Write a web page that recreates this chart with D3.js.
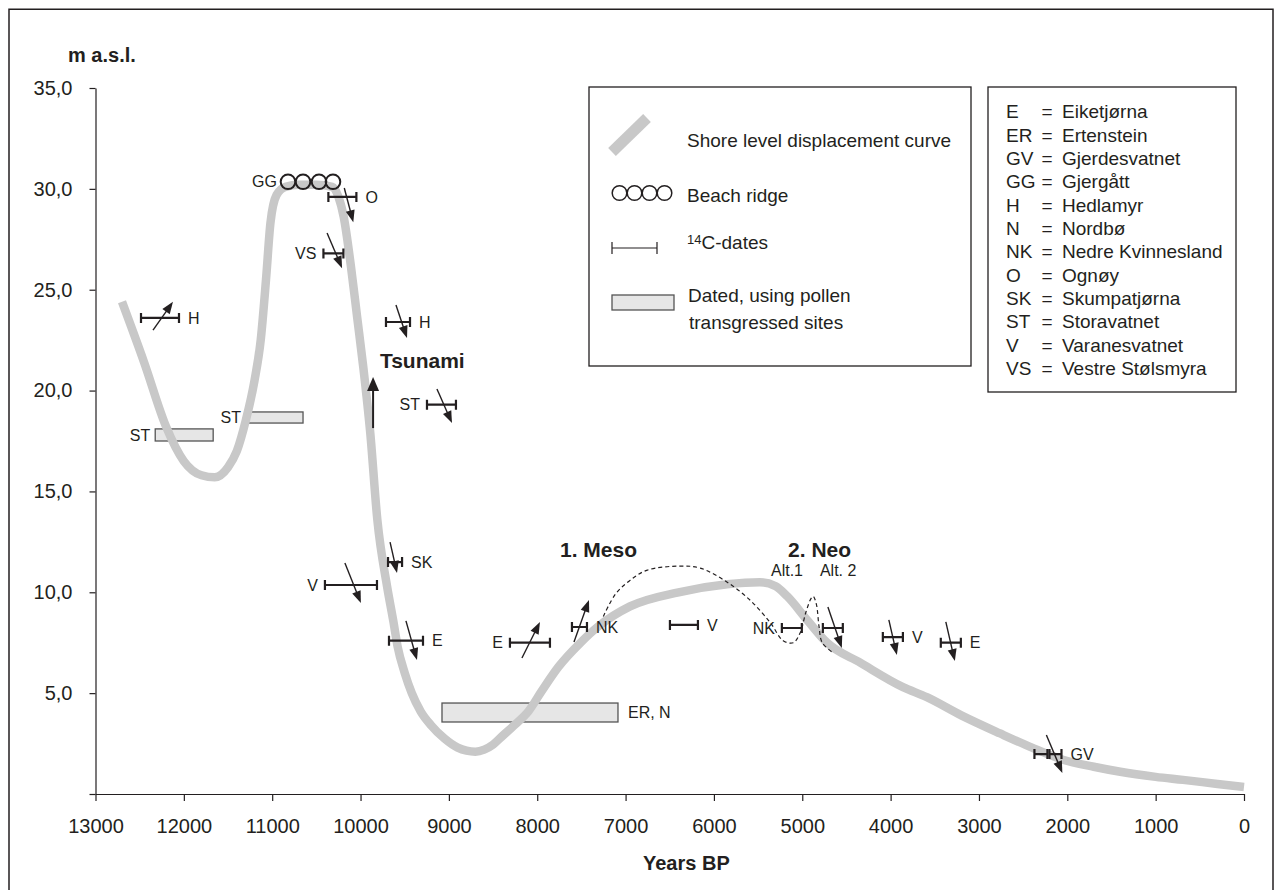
<!DOCTYPE html>
<html><head><meta charset="utf-8">
<script src="https://cdn.jsdelivr.net/npm/d3@7"></script>
<style>
body{margin:0;background:#fff}
text{font-family:"Liberation Sans",Arial,Helvetica,sans-serif;fill:#231f20}
</style>
</head><body>
<svg id="c" width="1275" height="890"></svg>
<script>
// ---------------- data ----------------
const xTicks = [13000,12000,11000,10000,9000,8000,7000,6000,5000,4000,3000,2000,1000,0];
const yTicks = [0,5,10,15,20,25,30,35];

// shore level displacement curve (years BP, m a.s.l.)
const curveYears  = [12700,12450,12200,12000,11800,11650,11500,11400,11300,11200,11130,11070,11020,10950,10850,10700,10500,10320,10250,10190,10110,10040,9970,9890,9810,9700,9630,9580,9500,9420,9320,9200,9050,8900,8800,8700,8600,8500,8400,8250,8100,7950,7760,7510,7310,6950,6400,5850,5480,5300,5170,4940,4720,4340,3860,3590,3200,2760,2400,2050,1700,1400,1000,690,300,0];
const curveLevels = [24.4,21.4,18.2,16.5,15.8,15.7,16.2,17.0,18.5,20.5,22.5,25.5,28.3,29.7,30.1,30.2,30.2,30.1,29.6,28.6,26.2,23.7,21.2,17.9,13.6,10.3,8.6,7.3,6.0,5.0,4.1,3.4,2.75,2.3,2.15,2.1,2.2,2.45,2.85,3.45,4.1,5.1,6.3,7.5,8.3,9.3,10.0,10.4,10.5,10.3,9.8,8.6,7.5,6.5,5.3,4.8,3.9,3.0,2.3,1.7,1.35,1.1,0.85,0.7,0.5,0.35];

// dashed alternative curve
const dashYears  = [7252,7116,6947,6754,6381,6155,5849,5589,5363,5216,5102,5023,4960,4900,4876,4840,4810,4774,4650];
const dashLevels = [8.8,9.9,10.6,11.1,11.3,11.2,10.5,9.6,8.5,7.6,7.5,8.0,9.0,9.7,9.8,9.4,8.3,7.5,7.0];

// beach ridge (GG)
const beachYears = [10821,10651,10470,10312];
const beachLevel = 30.35;

// 14C dates
const dateSites  = ["H","O","VS","H","ST","SK","V","E","E","NK","V","NK","","V","E","","GV"];
const dateFrom   = [12485,10364,10420,9712,9248,9689,10403,9678,8309,7607,6498,5231,4767,4088,3432,2372,2202];
const dateTo     = [12055,10047,10194,9440,8920,9530,9814,9293,7856,7437,6181,5005,4541,3861,3205,2225,2066];
const dateLevel  = [23.6,29.6,26.8,23.4,19.3,11.5,10.36,7.6,7.5,8.28,8.38,8.23,8.23,7.78,7.5,1.98,1.98];
const dateSide   = ["right","right","left","right","left","right","left","right","left","right","right","left","right","right","right","right","right"];
// arrows (tail -> head), null = no arrow
const arrowFromYear  = [12349,10184,10379,9599,9135,9666,10177,9486,8173,7584,null,null,4710,4020,3375,null,2237];
const arrowFromLevel = [23.0,30.04,27.81,24.24,20.08,12.49,11.45,8.58,6.74,7.54,null,null,9.27,8.63,8.53,null,2.93];
const arrowToYear    = [12123,10082,10209,9474,8965,9587,9996,9361,7969,7414,null,null,4552,3929,3273,null,2056];
const arrowToLevel   = [24.4,28.35,26.07,22.61,18.39,10.96,9.47,6.64,8.53,9.62,null,null,7.24,6.89,6.59,null,1.04];

// pollen-dated transgressed sites
const pollenSites  = ["ST","ST","ER, N"];
const pollenFrom   = [12324,11297,9078];
const pollenTo     = [11668,10651,7086];
const pollenTop    = [18.1,18.94,4.51];
const pollenBottom = [17.5,18.39,3.57];
const pollenSide   = ["left","left","right"];

// tsunami
const tsunamiYear = 9858, tsunamiFrom = 18.14, tsunamiTo = 20.67;

// annotations
const annTexts  = ["Tsunami","1. Meso","2. Neo","Alt.1","Alt. 2"];
const annYears  = [9781,7742,5161,5354,4800];
const annLevels = [21.47,12.1,12.1,11.1,11.1];
const annBold   = [true,true,true,false,false];

// site key
const siteCodes = ["E","ER","GV","GG","H","N","NK","O","SK","ST","V","VS"];
const siteNames = ["Eiketjørna","Ertenstein","Gjerdesvatnet","Gjergått","Hedlamyr","Nordbø","Nedre Kvinnesland","Ognøy","Skumpatjørna","Storavatnet","Varanesvatnet","Vestre Stølsmyra"];

// ---------------- drawing ----------------
const INK = "#231f20", GREY = "#c8c8c8", BOXFILL = "#e6e6e6", BOXSTROKE = "#555";
const svg = d3.select("#c");
svg.append("rect").attr("width",1275).attr("height",890).attr("fill","#fff");
// outer frame (bottom edge lies outside the picture)
svg.append("path").attr("d","M9,892V9.3H1273V892").attr("fill","none").attr("stroke",INK).attr("stroke-width",1.5);

const x = d3.scaleLinear().domain([13000,0]).range([95.5,1244]);
const y = d3.scaleLinear().domain([0,35]).range([794,88]);

// axes
const gx = svg.append("g").attr("transform",`translate(0,${y(0)})`)
  .call(d3.axisBottom(x).tickValues(xTicks).tickSize(7).tickSizeOuter(0).tickPadding(18).tickFormat(d3.format("d")));
const gy = svg.append("g").attr("transform",`translate(${x(13000)},0)`)
  .call(d3.axisLeft(y).tickValues(yTicks).tickSize(6).tickSizeOuter(0).tickPadding(17)
    .tickFormat(d => d === 0 ? "" : d.toFixed(1).replace(".", ",")));
[gx,gy].forEach(g => {
  g.attr("font-family",null).attr("font-size",null);
  g.selectAll("path,line").attr("stroke",INK).attr("stroke-width",1.2);
  g.selectAll("text").attr("fill",INK).style("font-size","20px");
});

svg.append("text").attr("x",68).attr("y",55).attr("dy","0.35em")
  .style("font-size","20px").style("font-weight","bold").text("m a.s.l.");
svg.append("text").attr("x",643).attr("y",863).attr("dy","0.35em")
  .style("font-size","20px").style("font-weight","bold").text("Years BP");

// pollen boxes
const pollen = pollenSites.map((s,i)=>({s,from:pollenFrom[i],to:pollenTo[i],top:pollenTop[i],bot:pollenBottom[i],side:pollenSide[i]}));
svg.append("g").selectAll("rect").data(pollen).join("rect")
  .attr("x",d=>x(d.from)).attr("y",d=>y(d.top))
  .attr("width",d=>x(d.to)-x(d.from)).attr("height",d=>y(d.bot)-y(d.top))
  .attr("fill",BOXFILL).attr("stroke",BOXSTROKE).attr("stroke-width",1.3);
svg.append("g").selectAll("text").data(pollen).join("text")
  .attr("x",d=>d.side==="left"? x(d.from)-5 : x(d.to)+10)
  .attr("y",d=>(y(d.top)+y(d.bot))/2).attr("dy","0.35em")
  .attr("text-anchor",d=>d.side==="left"?"end":"start")
  .style("font-size","16px").text(d=>d.s);

// main curve
const line = d3.line().x(d=>x(d[0])).y(d=>y(d[1])).curve(d3.curveMonotoneX);
svg.append("path").datum(curveYears.map((v,i)=>[v,curveLevels[i]]))
  .attr("d",line).attr("fill","none").attr("stroke",GREY).attr("stroke-width",8.5);

// dashed curve
const dline = d3.line().x(d=>x(d[0])).y(d=>y(d[1])).curve(d3.curveCatmullRom.alpha(0.5));
svg.append("path").datum(dashYears.map((v,i)=>[v,dashLevels[i]]))
  .attr("d",dline).attr("fill","none").attr("stroke",INK).attr("stroke-width",1.2)
  .attr("stroke-dasharray","4,3");

// beach ridge
svg.append("g").selectAll("circle").data(beachYears).join("circle")
  .attr("cx",d=>x(d)).attr("cy",y(beachLevel)).attr("r",7.3)
  .attr("fill","none").attr("stroke",INK).attr("stroke-width",2);
svg.append("text").attr("x",x(beachYears[0])-11).attr("y",y(beachLevel)).attr("dy","0.3em")
  .attr("text-anchor","end").style("font-size","16px").text("GG");

// arrows helper
function arrow(g,x1,y1,x2,y2,len,wid,sw){
  const dx=x2-x1, dy=y2-y1, L=Math.hypot(dx,dy), ux=dx/L, uy=dy/L;
  const bx=x2-ux*len, by=y2-uy*len, px=-uy*wid/2, py=ux*wid/2;
  g.append("line").attr("x1",x1).attr("y1",y1).attr("x2",bx+ux*1).attr("y2",by+uy*1)
    .attr("stroke",INK).attr("stroke-width",sw);
  g.append("polygon").attr("points",`${x2},${y2} ${bx+px},${by+py} ${bx-px},${by-py}`).attr("fill",INK);
}

// 14C dates
const dates = dateSites.map((s,i)=>({s,from:dateFrom[i],to:dateTo[i],m:dateLevel[i],side:dateSide[i],
  ax1:arrowFromYear[i],ay1:arrowFromLevel[i],ax2:arrowToYear[i],ay2:arrowToLevel[i]}));
const gd = svg.append("g");
dates.forEach(d=>{
  const x1=x(d.from), x2=x(d.to), yy=y(d.m);
  gd.append("path").attr("d",`M${x1},${yy-5}V${yy+5}M${x1},${yy}H${x2}M${x2},${yy-5}V${yy+5}`)
    .attr("fill","none").attr("stroke",INK).attr("stroke-width",2.2);
  if(d.s){
    gd.append("text").attr("x",d.side==="left"?x1-7:x2+9).attr("y",yy).attr("dy","0.35em")
      .attr("text-anchor",d.side==="left"?"end":"start").style("font-size","16px").text(d.s);
  }
  if(d.ax1!==null){
    arrow(gd,x(d.ax1),y(d.ay1),x(d.ax2),y(d.ay2),12,9,1.4);
  }
});

// tsunami arrow
arrow(svg.append("g"),x(tsunamiYear),y(tsunamiFrom),x(tsunamiYear),y(tsunamiTo),14,12,2);

// annotations
annTexts.forEach((t,i)=>{
  svg.append("text").attr("x",x(annYears[i])).attr("y",y(annLevels[i])).attr("dy","0.35em")
    .style("font-size",annBold[i]?"21px":"16px").style("font-weight",annBold[i]?"bold":"normal").text(t);
});

// ---------- legend 1 ----------
const L1 = svg.append("g");
L1.append("rect").attr("x",589).attr("y",87).attr("width",382).attr("height",279)
  .attr("fill","#fff").attr("stroke",INK).attr("stroke-width",1.3);
L1.append("line").attr("x1",612).attr("y1",152).attr("x2",647).attr("y2",118)
  .attr("stroke",GREY).attr("stroke-width",11);
L1.append("text").attr("x",687).attr("y",140).attr("dy","0.35em").style("font-size","19px").text("Shore level displacement curve");
[619.5,634.5,649.5,664.5].forEach(cx=>L1.append("circle").attr("cx",cx).attr("cy",193).attr("r",7.3)
  .attr("fill","none").attr("stroke",INK).attr("stroke-width",1.5));
L1.append("text").attr("x",687).attr("y",195).attr("dy","0.35em").style("font-size","19px").text("Beach ridge");
L1.append("path").attr("d","M612,242V254M612,248H657M657,242V254").attr("fill","none").attr("stroke",INK).attr("stroke-width",1.2);
const t14 = L1.append("text").attr("x",687).attr("y",250).attr("dy","0.35em").style("font-size","19px");
t14.append("tspan").attr("dy","-0.1em").style("font-size","13px").attr("baseline-shift","5").text("14");
t14.append("tspan").text("C-dates");
L1.append("rect").attr("x",612).attr("y",295).attr("width",62).attr("height",15)
  .attr("fill",BOXFILL).attr("stroke",BOXSTROKE).attr("stroke-width",1.3);
L1.append("text").attr("x",688).attr("y",295).attr("dy","0.35em").style("font-size","19px").text("Dated, using pollen");
L1.append("text").attr("x",689).attr("y",322).attr("dy","0.35em").style("font-size","19px").text("transgressed sites");

// ---------- legend 2 ----------
const L2 = svg.append("g");
L2.append("rect").attr("x",988).attr("y",87).attr("width",248).attr("height",305)
  .attr("fill","#fff").attr("stroke",INK).attr("stroke-width",1.3);
siteCodes.forEach((c,i)=>{
  const yy = 111.7 + i*23.33;
  L2.append("text").attr("x",1006).attr("y",yy).attr("dy","0.35em").style("font-size","19px").text(c);
  L2.append("text").attr("x",1047).attr("y",yy).attr("dy","0.35em").attr("text-anchor","middle").style("font-size","19px").text("=");
  L2.append("text").attr("x",1062).attr("y",yy).attr("dy","0.35em").style("font-size","19px").text(siteNames[i]);
});
</script>
</body></html>
